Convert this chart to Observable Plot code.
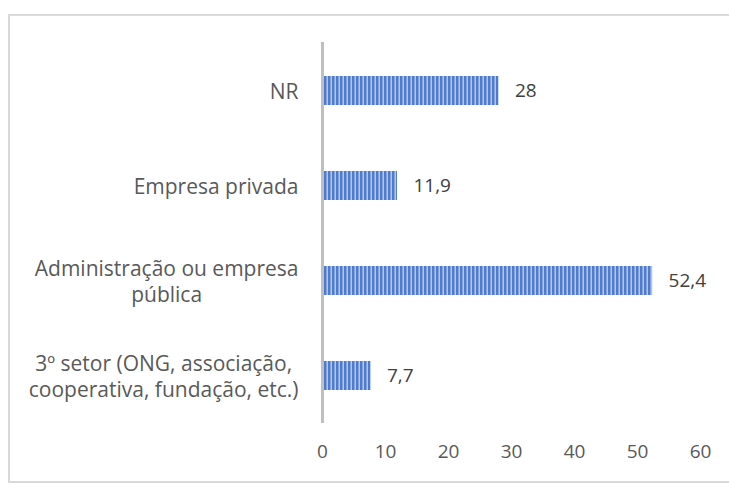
<!DOCTYPE html>
<html>
<head>
<meta charset="utf-8">
<script src="https://cdn.jsdelivr.net/npm/d3@7"></script>
<script src="https://cdn.jsdelivr.net/npm/@observablehq/plot@0.6"></script>
<style>
  html, body { margin: 0; padding: 0; background: #fff; }
  #wrap { position: relative; width: 729px; height: 484px; overflow: hidden; }
  #frame { position: absolute; left: 8px; top: 14px; width: 740px; height: 469px; border: 2px solid #d9d9d9; box-sizing: border-box; }
  #chart { position: absolute; left: 0; top: 0; }
</style>
</head>
<body>
<div id="wrap"><div id="frame"></div><div id="chart"></div></div>
<script>
const categories = [
  "NR",
  "Empresa privada",
  "Administração ou empresa\npública",
  "3º setor (ONG, associação,\ncooperativa, fundação, etc.)"
];
const values = [28, 11.9, 52.4, 7.7];
const xTicks = [0, 10, 20, 30, 40, 50, 60];

const data = categories.map((c, i) => ({category: c, value: values[i]}));
const fmt = v => String(v).replace(".", ",");
const FONT = "Open Sans, sans-serif";

const plot = Plot.plot({
  width: 729,
  height: 484,
  marginLeft: 322,
  marginRight: 29,
  marginTop: 42,
  marginBottom: 61,
  style: {fontFamily: FONT, fontSize: "19px", color: "#595959", background: "transparent"},
  x: {domain: [0, 60], ticks: xTicks, label: null},
  y: {domain: categories, label: null, paddingInner: 0.695, paddingOuter: 0.35},
  marks: [
    Plot.barX(data, {x: "value", y: "category", fill: "url(#stripes)", insetLeft: 2}),
    Plot.ruleX([0], {stroke: "#bfbfbf", strokeWidth: 3}),
    Plot.text(data, {x: "value", y: "category", text: d => fmt(d.value), textAnchor: "start", dx: 16, fill: "#404040", fontSize: 19}),
    Plot.axisX({ticks: xTicks, tickSize: 0, tickPadding: 21, fill: "#595959", fontSize: 19}),
    Plot.axisY({tickSize: 0, tickPadding: 24, fill: "#595959", fontSize: 21, lineHeight: 1.22, textAnchor: "end"})
  ]
});

// striped fill pattern resembling the original bar texture
const defs = d3.select(plot).insert("defs", ":first-child");
const pat = defs.append("pattern").attr("id", "stripes").attr("patternUnits", "userSpaceOnUse")
  .attr("width", 4).attr("height", 4);
pat.append("rect").attr("width", 4).attr("height", 4).attr("fill", "#4f7bcf");
pat.append("rect").attr("x", 2).attr("width", 1).attr("height", 4).attr("fill", "#86a4de");
pat.append("rect").attr("x", 3).attr("width", 1).attr("height", 4).attr("fill", "#b3c6ec");

document.getElementById("chart").appendChild(plot);

// ensure text sizes
d3.select(plot).selectAll("text").style("font-size", "19px");
d3.select(plot).selectAll("g[aria-label='y-axis tick label'] text").style("font-size", "21px");

// center lines of multi-line y labels within their block (as in the original)
d3.select(plot).selectAll("g[aria-label='y-axis tick label'] text").each(function() {
  const tspans = this.querySelectorAll("tspan");
  if (tspans.length < 2) return;
  let w = 0;
  tspans.forEach(t => { w = Math.max(w, t.getComputedTextLength()); });
  this.setAttribute("text-anchor", "middle");
  const x0 = +(this.getAttribute("x") || 0);
  tspans.forEach(t => t.setAttribute("x", x0 - w / 2));
});
</script>
</body>
</html>
